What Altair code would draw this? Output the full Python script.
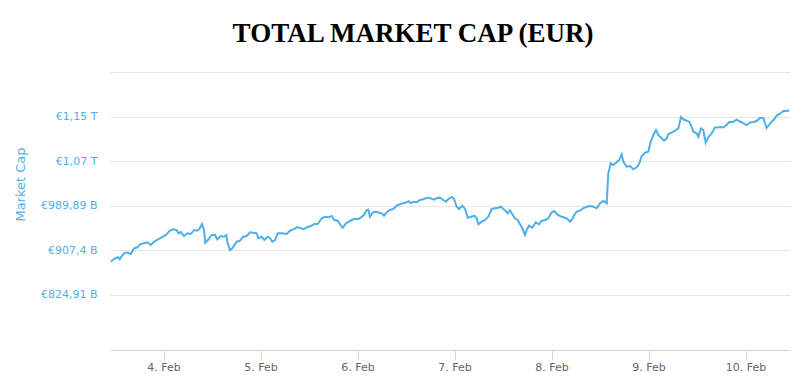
import altair as alt
import pandas as pd

# Hours since 2021-02-03 00:00 UTC
hours = [10.94, 11.93, 12.74, 13.16, 13.56, 14.40, 15.22, 15.88, 16.70, 17.52, 18.19, 19.18, 19.99, 20.83, 21.65,
         22.64, 23.88, 24.69, 25.53, 26.35, 27.17, 27.76, 28.26, 29.07, 29.89, 30.73, 31.55, 32.36, 32.96, 33.53,
         34.02, 34.34, 35.01, 35.83, 36.67, 37.31, 38.15, 38.97, 39.54, 39.79, 40.45, 41.02, 42.11, 42.93, 43.74,
         44.59, 45.40, 46.22, 47.06, 47.46, 48.30, 48.94, 49.78, 50.35, 50.92, 51.59, 52.26, 53.25, 54.48, 55.30,
         56.12, 56.96, 57.77, 58.59, 59.43, 60.49, 61.31, 62.15, 63.14, 63.96, 64.78, 65.62, 66.26, 67.10, 68.09,
         68.34, 69.15, 70.14, 71.13, 72.20, 72.79, 73.61, 74.28, 74.67, 75.09, 75.76, 76.58, 77.39, 77.99, 78.56,
         79.22, 80.04, 80.86, 81.70, 82.52, 83.33, 84.17, 84.67, 85.16, 85.81, 86.65, 87.46, 88.45, 89.27, 90.11,
         90.93, 91.60, 92.41, 93.23, 93.90, 94.47, 95.31, 95.88, 96.54, 97.11, 97.93, 98.60, 99.27, 100.08, 100.90,
         101.49, 101.89, 102.73, 103.55, 104.36, 105.20, 106.02, 106.84, 107.50, 108.07, 108.67, 109.16, 109.73,
         110.30, 110.97, 111.64, 112.21, 112.77, 113.44, 113.86, 114.43, 115.25, 116.09, 116.91, 117.57, 118.39,
         119.21, 120.05, 120.69, 121.53, 122.52, 123.34, 124.01, 124.58, 125.15, 125.64, 126.23, 127.05, 127.79,
         128.71, 129.52, 130.34, 131.18, 132.00, 132.82, 133.31, 133.66, 134.05, 134.65, 135.29, 135.96, 136.77,
         137.37, 137.76, 138.61, 139.42, 140.24, 141.08, 141.72, 142.32, 143.13, 143.95, 144.54, 145.19, 145.85,
         146.42, 147.26, 147.83, 148.50, 148.90, 149.74, 150.56, 151.37, 152.04, 152.61, 153.45, 154.09, 154.69,
         155.08, 155.92, 156.32, 156.99, 157.56, 158.15, 158.79, 159.64, 160.45, 161.12, 161.69, 162.51, 163.17,
         163.99, 164.83, 165.82, 166.64, 167.45, 168.30, 169.11, 169.93, 170.77, 171.59, 172.40, 173.24, 174.31,
         175.12, 175.72, 176.53, 177.35, 178.19, 178.84]

# Total market cap, billions of EUR
market_cap = [886.5, 892.1, 895.2, 890.9, 895.8, 903.2, 903.2, 900.7, 911.3, 913.1, 918.7, 920.5, 922.4, 917.4, 923.5,
              927.9, 932.7, 936.4, 943.8, 946.4, 945.1, 939.0, 941.4, 934.0, 939.0, 937.7, 945.1, 943.8, 948.3, 956.2,
              945.1, 921.6, 926.6, 935.3, 936.4, 927.9, 934.0, 932.7, 935.9, 923.5, 908.1, 911.3, 923.5, 925.3, 932.7,
              934.0, 940.9, 940.1, 939.0, 929.8, 932.7, 926.6, 932.7, 929.8, 923.5, 926.6, 939.0, 939.0, 937.7, 943.8,
              946.4, 950.1, 949.4, 946.4, 950.1, 952.5, 956.2, 956.2, 966.8, 969.7, 968.6, 971.0, 963.6, 962.3, 951.2,
              949.4, 957.5, 961.8, 965.5, 965.5, 967.9, 972.9, 982.1, 982.7, 969.7, 977.9, 979.0, 977.1, 976.0, 971.6,
              977.9, 982.1, 984.0, 990.1, 992.7, 994.5, 996.4, 998.8, 994.5, 997.5, 996.4, 1000.6, 1002.5, 1004.9, 1003.8,
              1001.2, 1003.8, 1004.9, 1000.6, 997.5, 1002.5, 1006.2, 1002.5, 988.2, 984.0, 990.1, 984.0, 967.9, 969.7, 971.6,
              966.8, 955.7, 960.5, 963.6, 969.7, 984.0, 985.3, 986.4, 988.2, 984.0, 980.3, 976.0, 981.6,
              974.2, 966.8, 963.6, 955.7, 948.3, 935.9, 945.1, 953.1, 949.4, 959.4, 955.7, 961.8, 963.6,
              966.8, 977.9, 980.3, 972.9, 969.7, 967.9, 965.5, 960.5, 965.5, 972.9, 979.0, 980.8, 985.3,
              988.2, 989.5, 988.2, 985.3, 994.5, 998.8, 996.9, 994.5, 1050.0, 1068.5, 1065.4, 1069.6, 1074.6,
              1085.2, 1071.5, 1062.2, 1063.5, 1057.4, 1061.1, 1068.5, 1082.0, 1088.1, 1090.0, 1108.5, 1120.8, 1130.1,
              1120.8, 1114.7, 1110.3, 1114.7, 1122.7, 1125.1, 1128.8, 1133.2, 1154.1, 1149.9, 1147.3, 1145.5, 1135.6,
              1127.0, 1124.0, 1117.7, 1133.2, 1130.1, 1106.6, 1116.6, 1124.0, 1134.7, 1134.7, 1135.6, 1134.7, 1138.4,
              1144.9, 1144.9, 1149.2, 1145.8, 1143.0, 1139.3, 1144.0, 1144.9, 1146.7, 1152.3, 1152.3, 1133.8, 1144.3,
              1150.4, 1156.9, 1160.2, 1165.2, 1165.2, 1166.5]

y_ticks = [824.91, 907.40, 989.89, 1072.38, 1154.87, 1237.36]
y_labels = ["€824,91 B", "€907,4 B", "€989,89 B", "€1,07 T", "€1,15 T", ""]
x_days = [4, 5, 6, 7, 8, 9, 10]

BASE_MS = 1612310400000  # 2021-02-03T00:00:00Z
HOUR_MS = 3600000

df = pd.DataFrame({
    "t": [BASE_MS + h * HOUR_MS for h in hours],
    "cap": market_cap,
})

x_domain = [BASE_MS + 10.76 * HOUR_MS, BASE_MS + 179.01 * HOUR_MS]
x_values = [BASE_MS + (d - 3) * 24 * HOUR_MS for d in x_days]

label_expr = ""
for v, lab in zip(y_ticks, y_labels):
    label_expr += f"abs(datum.value - {v}) < 1 ? '{lab}' : "
label_expr += "''"

blue = "#4fb0e6"

chart = alt.Chart(df).mark_line(color=blue, strokeWidth=2, clip=True).encode(
    x=alt.X("t:T",
            scale=alt.Scale(type="utc", domain=x_domain),
            axis=alt.Axis(values=x_values, labelExpr="utcFormat(datum.value, '%-d. %b')",
                          title=None, grid=False, domainColor="#ccd6eb", tickColor="#ccd6eb",
                          tickSize=10, labelColor="#666666", labelFontSize=11,
                          labelFont="DejaVu Sans", labelPadding=1)),
    y=alt.Y("cap:Q",
            scale=alt.Scale(domain=[723.18, 1237.36], nice=False, zero=False),
            axis=alt.Axis(values=y_ticks, labelExpr=label_expr, title="Market Cap",
                          titleColor=blue, titleFont="DejaVu Sans", titleFontSize=13,
                          titleFontWeight="normal", titleX=-90, titleY=112, titleAngle=-90,
                          titleBaseline="middle", titleAlign="center",
                          grid=True, gridColor="#e6e6e6", domain=False, ticks=False,
                          labelColor=blue, labelFontSize=11, labelFont="DejaVu Sans",
                          labelPadding=13)),
).properties(
    width=680,
    height=278,
    autosize=alt.AutoSizeParams(type="none"),
    padding={"left": 102, "top": 64, "right": 2, "bottom": 25},
    title=alt.TitleParams(text="TOTAL MARKET CAP (EUR)", font="Liberation Serif", fontSize=27,
                          fontWeight="bold", color="black", anchor="middle", frame="group",
                          dx=-37, offset=24),
).configure_view(stroke=None)

chart.save("out.html", embed_options={"renderer": "svg", "actions": False})
